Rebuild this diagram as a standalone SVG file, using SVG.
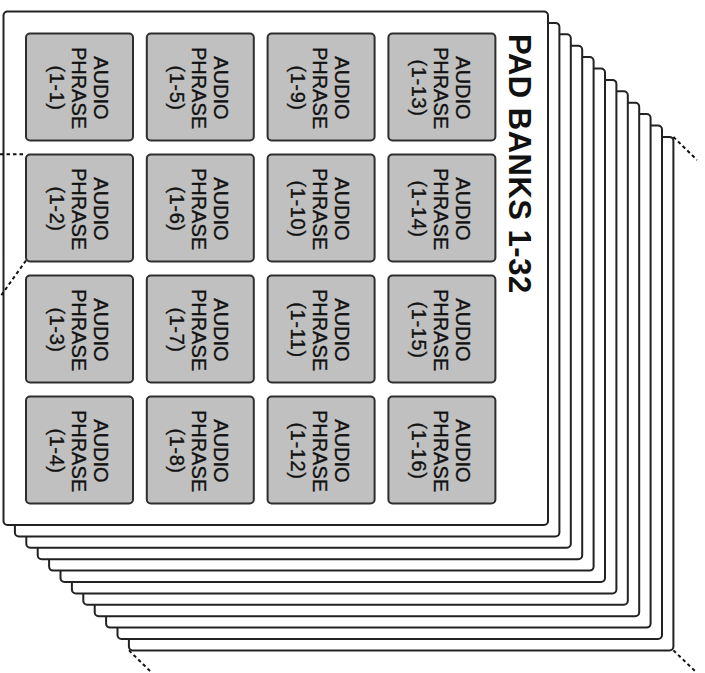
<svg xmlns="http://www.w3.org/2000/svg" width="705" height="673" viewBox="0 0 705 673">
<style>
.card{fill:#ffffff;stroke:#222222;stroke-width:2}
.pad{fill:#c0c0c0;stroke:#2e2e2e;stroke-width:2}
.pt{font-family:"Liberation Sans",Arial,Helvetica,sans-serif;font-size:20px;fill:#111111;stroke:#111111;stroke-width:0.35px;text-anchor:middle}
.num{letter-spacing:0.6px}
.title{font-family:"Liberation Sans",Arial,Helvetica,sans-serif;font-size:31px;font-weight:bold;fill:#111111;letter-spacing:0.5px}
.dash{fill:none;stroke:#111111;stroke-width:2;stroke-dasharray:3.5 3}
</style>
<defs>
<rect id="cardShape" x="3.5" y="11.5" width="544.5" height="513.5" rx="4" ry="4"/>
</defs>
<g id="bank-stack">
<g id="bank-12"><use href="#cardShape" class="card" transform="translate(125.4,125.4)"/></g>
<g id="bank-11"><use href="#cardShape" class="card" transform="translate(114,114)"/></g>
<g id="bank-10"><use href="#cardShape" class="card" transform="translate(102.6,102.6)"/></g>
<g id="bank-9"><use href="#cardShape" class="card" transform="translate(91.2,91.2)"/></g>
<g id="bank-8"><use href="#cardShape" class="card" transform="translate(79.8,79.8)"/></g>
<g id="bank-7"><use href="#cardShape" class="card" transform="translate(68.4,68.4)"/></g>
<g id="bank-6"><use href="#cardShape" class="card" transform="translate(57,57)"/></g>
<g id="bank-5"><use href="#cardShape" class="card" transform="translate(45.6,45.6)"/></g>
<g id="bank-4"><use href="#cardShape" class="card" transform="translate(34.2,34.2)"/></g>
<g id="bank-3"><use href="#cardShape" class="card" transform="translate(22.8,22.8)"/></g>
<g id="bank-2"><use href="#cardShape" class="card" transform="translate(11.4,11.4)"/></g>
<g id="bank-1"><use href="#cardShape" class="card"/>
<text class="title" transform="translate(509,34) rotate(90)">PAD BANKS 1-32</text>
</g>
</g>
<g id="pad-1-1"><rect class="pad" x="26" y="33.5" width="107" height="107" rx="4"/><text class="pt" transform="translate(79.5,88) rotate(90)"><tspan x="0" y="-14">AUDIO</tspan><tspan x="0" y="8">PHRASE</tspan><tspan class="num" x="0" y="30">(1-1)</tspan></text></g>
<g id="pad-1-2"><rect class="pad" x="26" y="154.5" width="107" height="107" rx="4"/><text class="pt" transform="translate(79.5,209) rotate(90)"><tspan x="0" y="-14">AUDIO</tspan><tspan x="0" y="8">PHRASE</tspan><tspan class="num" x="0" y="30">(1-2)</tspan></text></g>
<g id="pad-1-3"><rect class="pad" x="26" y="275.5" width="107" height="107" rx="4"/><text class="pt" transform="translate(79.5,330) rotate(90)"><tspan x="0" y="-14">AUDIO</tspan><tspan x="0" y="8">PHRASE</tspan><tspan class="num" x="0" y="30">(1-3)</tspan></text></g>
<g id="pad-1-4"><rect class="pad" x="26" y="396.5" width="107" height="107" rx="4"/><text class="pt" transform="translate(79.5,451) rotate(90)"><tspan x="0" y="-14">AUDIO</tspan><tspan x="0" y="8">PHRASE</tspan><tspan class="num" x="0" y="30">(1-4)</tspan></text></g>
<g id="pad-1-5"><rect class="pad" x="146.8" y="33.5" width="107" height="107" rx="4"/><text class="pt" transform="translate(200.3,88) rotate(90)"><tspan x="0" y="-14">AUDIO</tspan><tspan x="0" y="8">PHRASE</tspan><tspan class="num" x="0" y="30">(1-5)</tspan></text></g>
<g id="pad-1-6"><rect class="pad" x="146.8" y="154.5" width="107" height="107" rx="4"/><text class="pt" transform="translate(200.3,209) rotate(90)"><tspan x="0" y="-14">AUDIO</tspan><tspan x="0" y="8">PHRASE</tspan><tspan class="num" x="0" y="30">(1-6)</tspan></text></g>
<g id="pad-1-7"><rect class="pad" x="146.8" y="275.5" width="107" height="107" rx="4"/><text class="pt" transform="translate(200.3,330) rotate(90)"><tspan x="0" y="-14">AUDIO</tspan><tspan x="0" y="8">PHRASE</tspan><tspan class="num" x="0" y="30">(1-7)</tspan></text></g>
<g id="pad-1-8"><rect class="pad" x="146.8" y="396.5" width="107" height="107" rx="4"/><text class="pt" transform="translate(200.3,451) rotate(90)"><tspan x="0" y="-14">AUDIO</tspan><tspan x="0" y="8">PHRASE</tspan><tspan class="num" x="0" y="30">(1-8)</tspan></text></g>
<g id="pad-1-9"><rect class="pad" x="267.6" y="33.5" width="107" height="107" rx="4"/><text class="pt" transform="translate(321.1,88) rotate(90)"><tspan x="0" y="-14">AUDIO</tspan><tspan x="0" y="8">PHRASE</tspan><tspan class="num" x="0" y="30">(1-9)</tspan></text></g>
<g id="pad-1-10"><rect class="pad" x="267.6" y="154.5" width="107" height="107" rx="4"/><text class="pt" transform="translate(321.1,209) rotate(90)"><tspan x="0" y="-14">AUDIO</tspan><tspan x="0" y="8">PHRASE</tspan><tspan class="num" x="0" y="30">(1-10)</tspan></text></g>
<g id="pad-1-11"><rect class="pad" x="267.6" y="275.5" width="107" height="107" rx="4"/><text class="pt" transform="translate(321.1,330) rotate(90)"><tspan x="0" y="-14">AUDIO</tspan><tspan x="0" y="8">PHRASE</tspan><tspan class="num" x="0" y="30">(1-11)</tspan></text></g>
<g id="pad-1-12"><rect class="pad" x="267.6" y="396.5" width="107" height="107" rx="4"/><text class="pt" transform="translate(321.1,451) rotate(90)"><tspan x="0" y="-14">AUDIO</tspan><tspan x="0" y="8">PHRASE</tspan><tspan class="num" x="0" y="30">(1-12)</tspan></text></g>
<g id="pad-1-13"><rect class="pad" x="388.4" y="33.5" width="107" height="107" rx="4"/><text class="pt" transform="translate(441.9,88) rotate(90)"><tspan x="0" y="-14">AUDIO</tspan><tspan x="0" y="8">PHRASE</tspan><tspan class="num" x="0" y="30">(1-13)</tspan></text></g>
<g id="pad-1-14"><rect class="pad" x="388.4" y="154.5" width="107" height="107" rx="4"/><text class="pt" transform="translate(441.9,209) rotate(90)"><tspan x="0" y="-14">AUDIO</tspan><tspan x="0" y="8">PHRASE</tspan><tspan class="num" x="0" y="30">(1-14)</tspan></text></g>
<g id="pad-1-15"><rect class="pad" x="388.4" y="275.5" width="107" height="107" rx="4"/><text class="pt" transform="translate(441.9,330) rotate(90)"><tspan x="0" y="-14">AUDIO</tspan><tspan x="0" y="8">PHRASE</tspan><tspan class="num" x="0" y="30">(1-15)</tspan></text></g>
<g id="pad-1-16"><rect class="pad" x="388.4" y="396.5" width="107" height="107" rx="4"/><text class="pt" transform="translate(441.9,451) rotate(90)"><tspan x="0" y="-14">AUDIO</tspan><tspan x="0" y="8">PHRASE</tspan><tspan class="num" x="0" y="30">(1-16)</tspan></text></g>
<g id="connectors">
<line class="dash" x1="0" y1="154.3" x2="26" y2="154.3"/>
<line class="dash" x1="26" y1="260.5" x2="0" y2="297"/>
<line class="dash" x1="673.4" y1="136.9" x2="697" y2="160"/>
<line class="dash" x1="129" y1="650.4" x2="152" y2="673"/>
<line class="dash" x1="673.4" y1="650.4" x2="696" y2="672"/>
</g>
</svg>
